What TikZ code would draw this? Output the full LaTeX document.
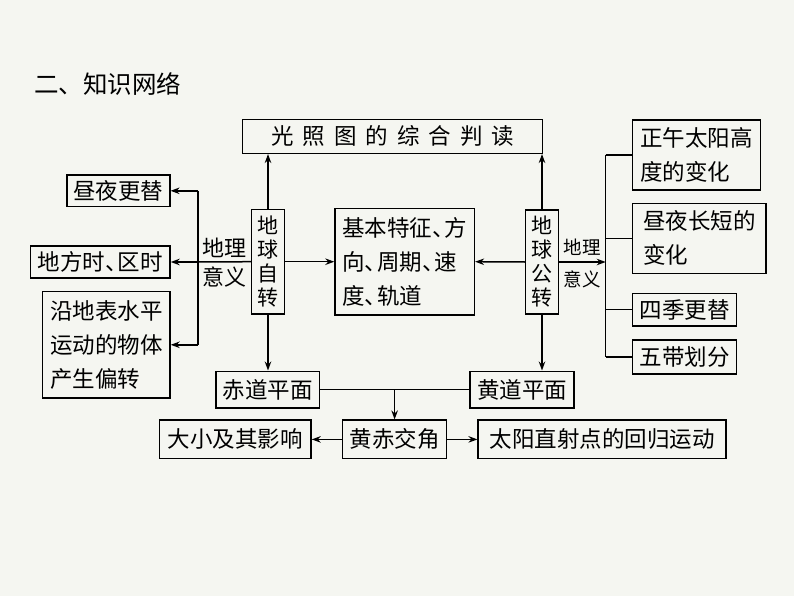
\documentclass[tikz,border=0pt]{standalone}
\usepackage{fontspec}
\setmainfont{Noto Sans CJK SC}
\usetikzlibrary{arrows.meta}
\definecolor{paper}{HTML}{F5F6F1}
\newcommand\dunhao{\makebox[0.55em][l]{、}}

\begin{document}
\begin{tikzpicture}[x=1pt, y=-1pt, line width=1.5pt,
		box/.style={draw, inner sep=0pt, font=\fontsize{22.5}{34}\selectfont},
		col/.style={box, align=center, font=\fontsize{21}{24}\selectfont},
		arr/.style={-{Stealth[length=9pt,width=6.5pt]}}]
	\fill[paper] (0,0) rectangle (794,596);
	
	\node[anchor=west, font=\fontsize{24.5}{28}\selectfont] (title) at (30,84) {二、知识网络};
	
	% middle
	\node[box, minimum width=300pt, minimum height=34pt] (guangzhao) at (392.7,136.3) {{\addfontfeature{LetterSpace=40}光照图的综合判读}\hspace{-9pt}};
	\node[col, minimum width=32.6pt, minimum height=104.7pt] (zizhuan) at (268,261.7) {地\\球\\自\\转};
	\node[box, align=left, minimum width=139.3pt, minimum height=106.7pt] (jiben) at (404.7,261.7) {基本特征\dunhao 方\\向\dunhao 周期\dunhao 速\\度\dunhao 轨道};
	\node[col, minimum width=32.6pt, minimum height=104pt] (gongzhuan) at (542,262) {地\\球\\公\\转};
	
	% left
	\node[box, minimum width=103pt, minimum height=31.7pt] (zhouye) at (118.3,190.8) {昼夜更替};
	\node[box, minimum width=139.3pt, minimum height=32pt] (difang) at (100.3,262) {地方时\dunhao 区时};
	\node[box, align=left, minimum width=127.3pt, minimum height=106.3pt] (pianzhuan) at (106.3,344.8) {沿地表水平\\运动的物体\\产生偏转};
	
	% right
	\node[box, align=left, minimum width=128pt, minimum height=70pt] (gaodu) at (696.7,155) {正午太阳高\\度的变化};
	\node[box, align=left, minimum width=133.3pt, minimum height=70pt] (changduan) at (699.3,238.3) {昼夜长短的\\变化};
	\node[box, minimum width=104pt, minimum height=32.7pt] (siji) at (684.7,309.7) {四季更替};
	\node[box, minimum width=104pt, minimum height=34pt] (wudai) at (684.7,357) {五带划分};
	
	% bottom
	\node[box, minimum width=103.5pt, minimum height=36.5pt] (chidao) at (267.6,389.5) {赤道平面};
	\node[box, minimum width=104.3pt, minimum height=36.5pt] (huangdao) at (522,389.5) {黄道平面};
	\node[box, minimum width=104pt, minimum height=38.4pt] (jiaojiao) at (394.6,439.4) {黄赤交角};
	\node[box, minimum width=151.6pt, minimum height=38.4pt] (daxiao) at (235.2,439.4) {大小及其影响};
	\node[box, minimum width=247.6pt, minimum height=38.4pt] (guixian) at (602,439.4) {太阳直射点的回归运动};
	
	\coordinate (lbus) at (198,262);
	\coordinate (rbus) at (605.7,262);
	
	\draw[arr] (zizhuan.north) -- (zizhuan.north |- guangzhao.south);
	\draw[arr] (gongzhuan.north) -- (gongzhuan.north |- guangzhao.south);
	\draw[arr] (zizhuan.east) -- (jiben.west);
	\draw[arr] (gongzhuan.west) -- (jiben.east);
	\draw[arr] (zizhuan.south) -- (zizhuan.south |- chidao.north);
	\draw[arr] (gongzhuan.south) -- (gongzhuan.south |- huangdao.north);
	
	\draw (zizhuan.west) -- (lbus);
	\path (lbus) -- (zizhuan.west) node[midway, above=0.5pt, font=\fontsize{22}{24}\selectfont] {地理} node[midway, below=0.5pt, font=\fontsize{22}{24}\selectfont] {意义};
	\draw (lbus |- zhouye.east) -- (lbus |- pianzhuan.east);
	\draw[arr] (lbus |- zhouye.east) -- (zhouye.east);
	\draw[arr] (lbus) -- (difang.east);
	\draw[arr] (lbus |- pianzhuan.east) -- (pianzhuan.east);
	
	\draw[arr] (gongzhuan.east) -- (rbus);
	\path (gongzhuan.east) -- (rbus) node[midway, above=2pt, font=\fontsize{18.5}{20}\selectfont] {地理} node[midway, below=5pt, font=\fontsize{18.5}{20}\selectfont] {意义};
	\draw (rbus |- gaodu.west) -- (rbus |- wudai.west);
	\draw (rbus |- gaodu.west) -- (gaodu.west);
	\draw (rbus |- changduan.west) -- (changduan.west);
	\draw (rbus |- siji.west) -- (siji.west);
	\draw (rbus |- wudai.west) -- (wudai.west);
	
	\draw (chidao.east) -- (huangdao.west);
	\draw[arr] (jiaojiao.north |- chidao.east) -- (jiaojiao.north);
	\draw[arr] (jiaojiao.west) -- (daxiao.east);
	\draw[arr] (jiaojiao.east) -- (guixian.west);
\end{tikzpicture}
\end{document}
